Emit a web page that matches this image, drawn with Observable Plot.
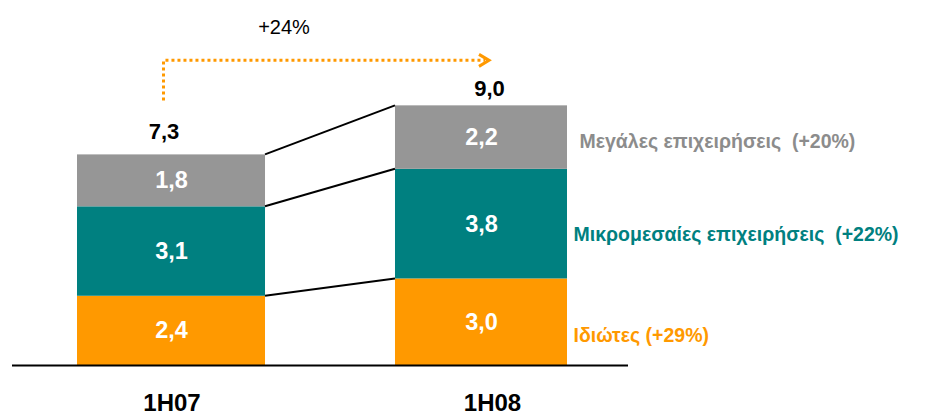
<!DOCTYPE html>
<html><head><meta charset="utf-8">
<script src="https://cdn.jsdelivr.net/npm/d3@7"></script>
<script src="https://cdn.jsdelivr.net/npm/@observablehq/plot@0.6"></script>
<style>body{margin:0;background:#fff}</style>
</head><body><div id="chart"></div>
<script>
const periods = ["1H07", "1H08"];
const segments = ["Ιδιώτες", "Μικρομεσαίες επιχειρήσεις", "Μεγάλες επιχειρήσεις"];
const values1H07 = [2.4, 3.1, 1.8];
const values1H08 = [3.0, 3.8, 2.2];
const totals = [7.3, 9.0];
const segmentGrowth = ["(+29%)", "(+22%)", "(+20%)"];
const totalGrowth = "+24%";
const colors = ["#FF9900", "#008080", "#969696"];
const labelColors = ["#FF9900", "#008080", "#8C8C8C"];

const fmt = v => v.toFixed(1).replace(".", ",");
const rows = [];
periods.forEach((p, i) => {
  const vals = i === 0 ? values1H07 : values1H08;
  segments.forEach((s, j) => rows.push({period: p, segment: s, value: vals[j], idx: j}));
});
const totalRows = periods.map((p, i) => ({period: p, total: totals[i]}));
const segLabel = j => segments[j] + (j === 0 ? " " : "\u00A0 ") + segmentGrowth[j];

const font = "Liberation Sans, Arial, sans-serif";
const INSET2 = 8;

// right-side label offsets per segment (dx, dy)
const rightOffsets = [[92, 14], [92, 11], [98, 4]];

function overlay(index, scales, values, dims) {
  const x = scales.x, y = scales.y;
  const bw = x.bandwidth ? x.bandwidth() : 188;
  const g = d3.create("svg:g");
  let c1 = 0, c2 = 0;
  for (let j = 0; j < segments.length; j++) {
    c1 += values1H07[j]; c2 += values1H08[j];
    g.append("line")
      .attr("x1", x(periods[0]) + bw).attr("y1", y(c1))
      .attr("x2", x(periods[1]) + INSET2).attr("y2", y(c2))
      .attr("stroke", "black").attr("stroke-width", 2);
  }
  const xs = x(periods[0]) + bw / 2 - 7.5;
  const xe = x(periods[1]) + bw / 2 + 8;
  const yb = y(totals[0]) - 54;
  const yt = y(totals[1]) - 45;
  g.append("path")
    .attr("d", `M${xs},${yb}V${yt}H${xe - 4}`)
    .attr("fill", "none").attr("stroke", "#FF9900")
    .attr("stroke-width", 3).attr("stroke-dasharray", "3,3");
  g.append("path")
    .attr("d", `M${xe - 10},${yt - 6}L${xe},${yt}L${xe - 10},${yt + 6}`)
    .attr("fill", "none").attr("stroke", "#FF9900").attr("stroke-width", 3);
  g.append("text")
    .attr("x", xs + 120.5).attr("y", yt - 33).attr("dy", "0.35em")
    .attr("text-anchor", "middle").attr("font-size", 20)
    .attr("font-family", font).attr("fill", "black")
    .text(totalGrowth);
  return g.node();
}

const marks = [
  Plot.barY(rows, Plot.stackY({filter: d => d.period === periods[0], x: "period", y: "value", fill: "segment"})),
  Plot.barY(rows, Plot.stackY({filter: d => d.period === periods[1], x: "period", y: "value", fill: "segment", insetLeft: INSET2, insetRight: INSET2})),
  Plot.text(rows, Plot.stackY({x: "period", y: "value", text: d => fmt(d.value), fill: "white", fontWeight: "bold", fontSize: 23.5})),
  Plot.ruleY([0], {stroke: "black", strokeWidth: 2}),
  Plot.text(totalRows, {filter: d => d.period === periods[0], x: "period", y: "total", text: d => fmt(d.total), dx: -7.5, dy: -23, fontWeight: "bold", fontSize: 22, fill: "black"}),
  Plot.text(totalRows, {filter: d => d.period === periods[1], x: "period", y: "total", text: d => fmt(d.total), dx: 8, dy: -17, fontWeight: "bold", fontSize: 22, fill: "black"}),
  Plot.text([periods[0]], {x: d => d, frameAnchor: "bottom", lineAnchor: "bottom", dy: 45, dx: 0.5, text: d => d, fontWeight: "bold", fontSize: 24, fill: "black"}),
  Plot.text([periods[1]], {x: d => d, frameAnchor: "bottom", lineAnchor: "bottom", dy: 45, dx: 11, text: d => d, fontWeight: "bold", fontSize: 24, fill: "black"}),
  ...segments.map((s, j) => Plot.text(rows, Plot.filter(
    d => d.period === periods[1] && d.idx === j,
    Plot.stackY({
      x: "period", y: "value", text: d => segLabel(d.idx),
      textAnchor: "start", dx: rightOffsets[j][0], dy: rightOffsets[j][1],
      fill: labelColors[j], fontWeight: "bold", fontSize: 19.5
    })))),
  overlay
];

const chart = Plot.plot({
  width: 951, height: 412,
  marginLeft: 12, marginRight: 323, marginTop: 0, marginBottom: 47,
  style: {fontFamily: font, background: "#fff", overflow: "visible"},
  x: {domain: periods, range: [77, 575], paddingInner: 0.3935, paddingOuter: 0, round: false, axis: null},
  y: {domain: [0, 10], range: [365, 76.5], axis: null},
  color: {domain: segments, range: colors},
  marks
});
document.getElementById("chart").appendChild(chart);
</script>
</body></html>
